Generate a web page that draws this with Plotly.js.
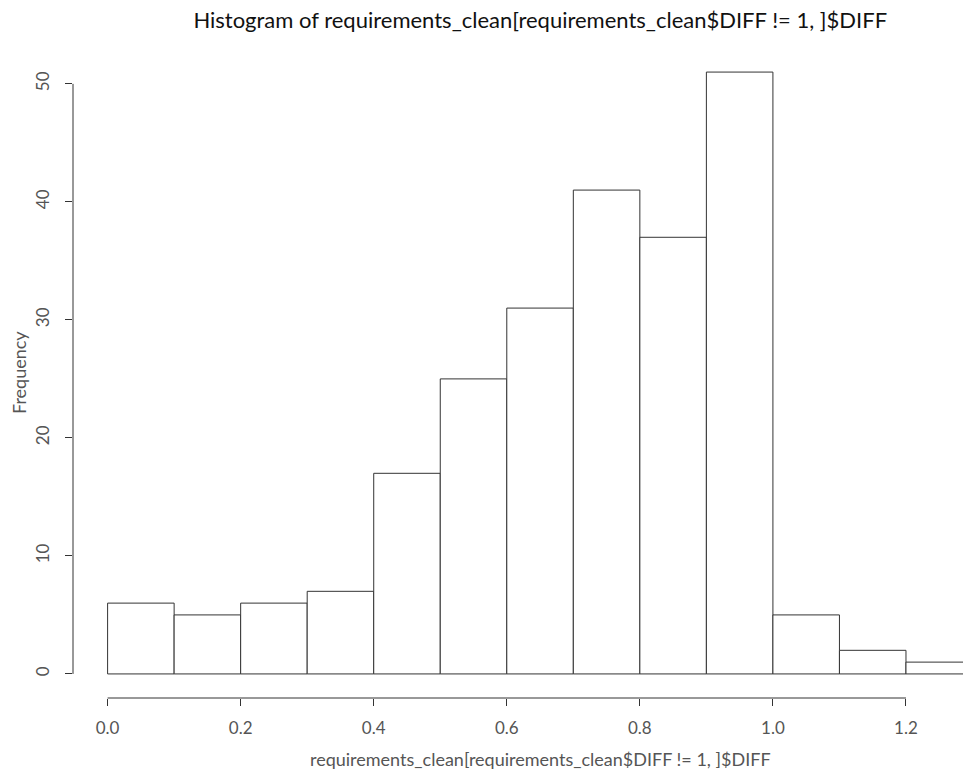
<!DOCTYPE html>
<html>
<head>
<meta charset="utf-8">
<script src="https://cdn.plot.ly/plotly-3.0.1.min.js"></script>
<style>html,body{margin:0;padding:0;background:#fff;}#chart{width:963px;height:771px;}</style>
</head>
<body>
<div id="chart"></div>
<script>
const binStarts = [0.0, 0.1, 0.2, 0.3, 0.4, 0.5, 0.6, 0.7, 0.8, 0.9, 1.0, 1.1, 1.2];
const binWidth = 0.1;
const counts = [6, 5, 6, 7, 17, 25, 31, 41, 37, 51, 5, 2, 1];
const xTicks = [0.0, 0.2, 0.4, 0.6, 0.8, 1.0, 1.2];
const xTickLabels = ["0.0", "0.2", "0.4", "0.6", "0.8", "1.0", "1.2"];
const yTicks = [0, 10, 20, 30, 40, 50];
const titleText = "Histogram of requirements_clean[requirements_clean$DIFF != 1, ]$DIFF";
const xLabel = "requirements_clean[requirements_clean$DIFF != 1, ]$DIFF";
const yLabel = "Frequency";

const FONT = "Lato, 'Open Sans', sans-serif";
const GREY = "#555555";

const centers = binStarts.map(s => s + binWidth / 2);

const trace = {
  type: "bar",
  x: centers,
  y: counts,
  width: binStarts.map(() => binWidth),
  marker: { color: "#ffffff", line: { color: "#333333", width: 1 } },
  hoverinfo: "x+y"
};

const layout = {
  width: 963,
  height: 771,
  margin: { l: 73, r: 0, t: 48, b: 73 },
  paper_bgcolor: "#ffffff",
  plot_bgcolor: "#ffffff",
  showlegend: false,
  bargap: 0,
  font: { family: FONT, color: GREY, size: 16 },
  title: {
    text: titleText,
    font: { family: FONT, size: 22, color: "#111111" },
    xref: "paper", x: 0.525, xanchor: "center",
    yref: "container", y: 0.974, yanchor: "middle"
  },
  xaxis: {
    range: [-0.052, 1.2857],
    tickvals: xTicks,
    ticktext: xTickLabels,
    ticks: "outside", ticklen: 7, tickwidth: 1, tickcolor: "#333333",
    showline: false, showgrid: false, zeroline: false,
    ticklabelstandoff: 8,
    tickfont: { family: FONT, size: 17, color: GREY }
  },
  yaxis: {
    range: [-2.04, 53.04],
    tickvals: yTicks,
    ticks: "outside", ticklen: 7, tickwidth: 1, tickcolor: "#333333",
    showline: false, showgrid: false, zeroline: false,
    tickangle: -90,
    ticklabelstandoff: 9,
    tickfont: { family: FONT, size: 17, color: GREY }
  },
  shapes: [
    { type: "line", xref: "x", yref: "paper", x0: xTicks[0], x1: xTicks[xTicks.length - 1], y0: 0, y1: 0,
      line: { color: "#333333", width: 1 } },
    { type: "line", xref: "paper", yref: "y", x0: 0, x1: 0, y0: yTicks[0], y1: yTicks[yTicks.length - 1],
      line: { color: "#333333", width: 1 } }
  ],
  annotations: [
    { text: xLabel, xref: "x", x: 0.65, yref: "paper", y: 0, yshift: -61, xanchor: "center", yanchor: "middle",
      showarrow: false, font: { family: FONT, size: 18, color: GREY } },
    { text: yLabel, xref: "paper", x: 0, xshift: -54, yref: "paper", y: 0.5, textangle: -90,
      xanchor: "center", yanchor: "middle", showarrow: false, font: { family: FONT, size: 18, color: GREY } }
  ]
};

Plotly.newPlot("chart", [trace], layout, { displayModeBar: false, staticPlot: true });
</script>
</body>
</html>
